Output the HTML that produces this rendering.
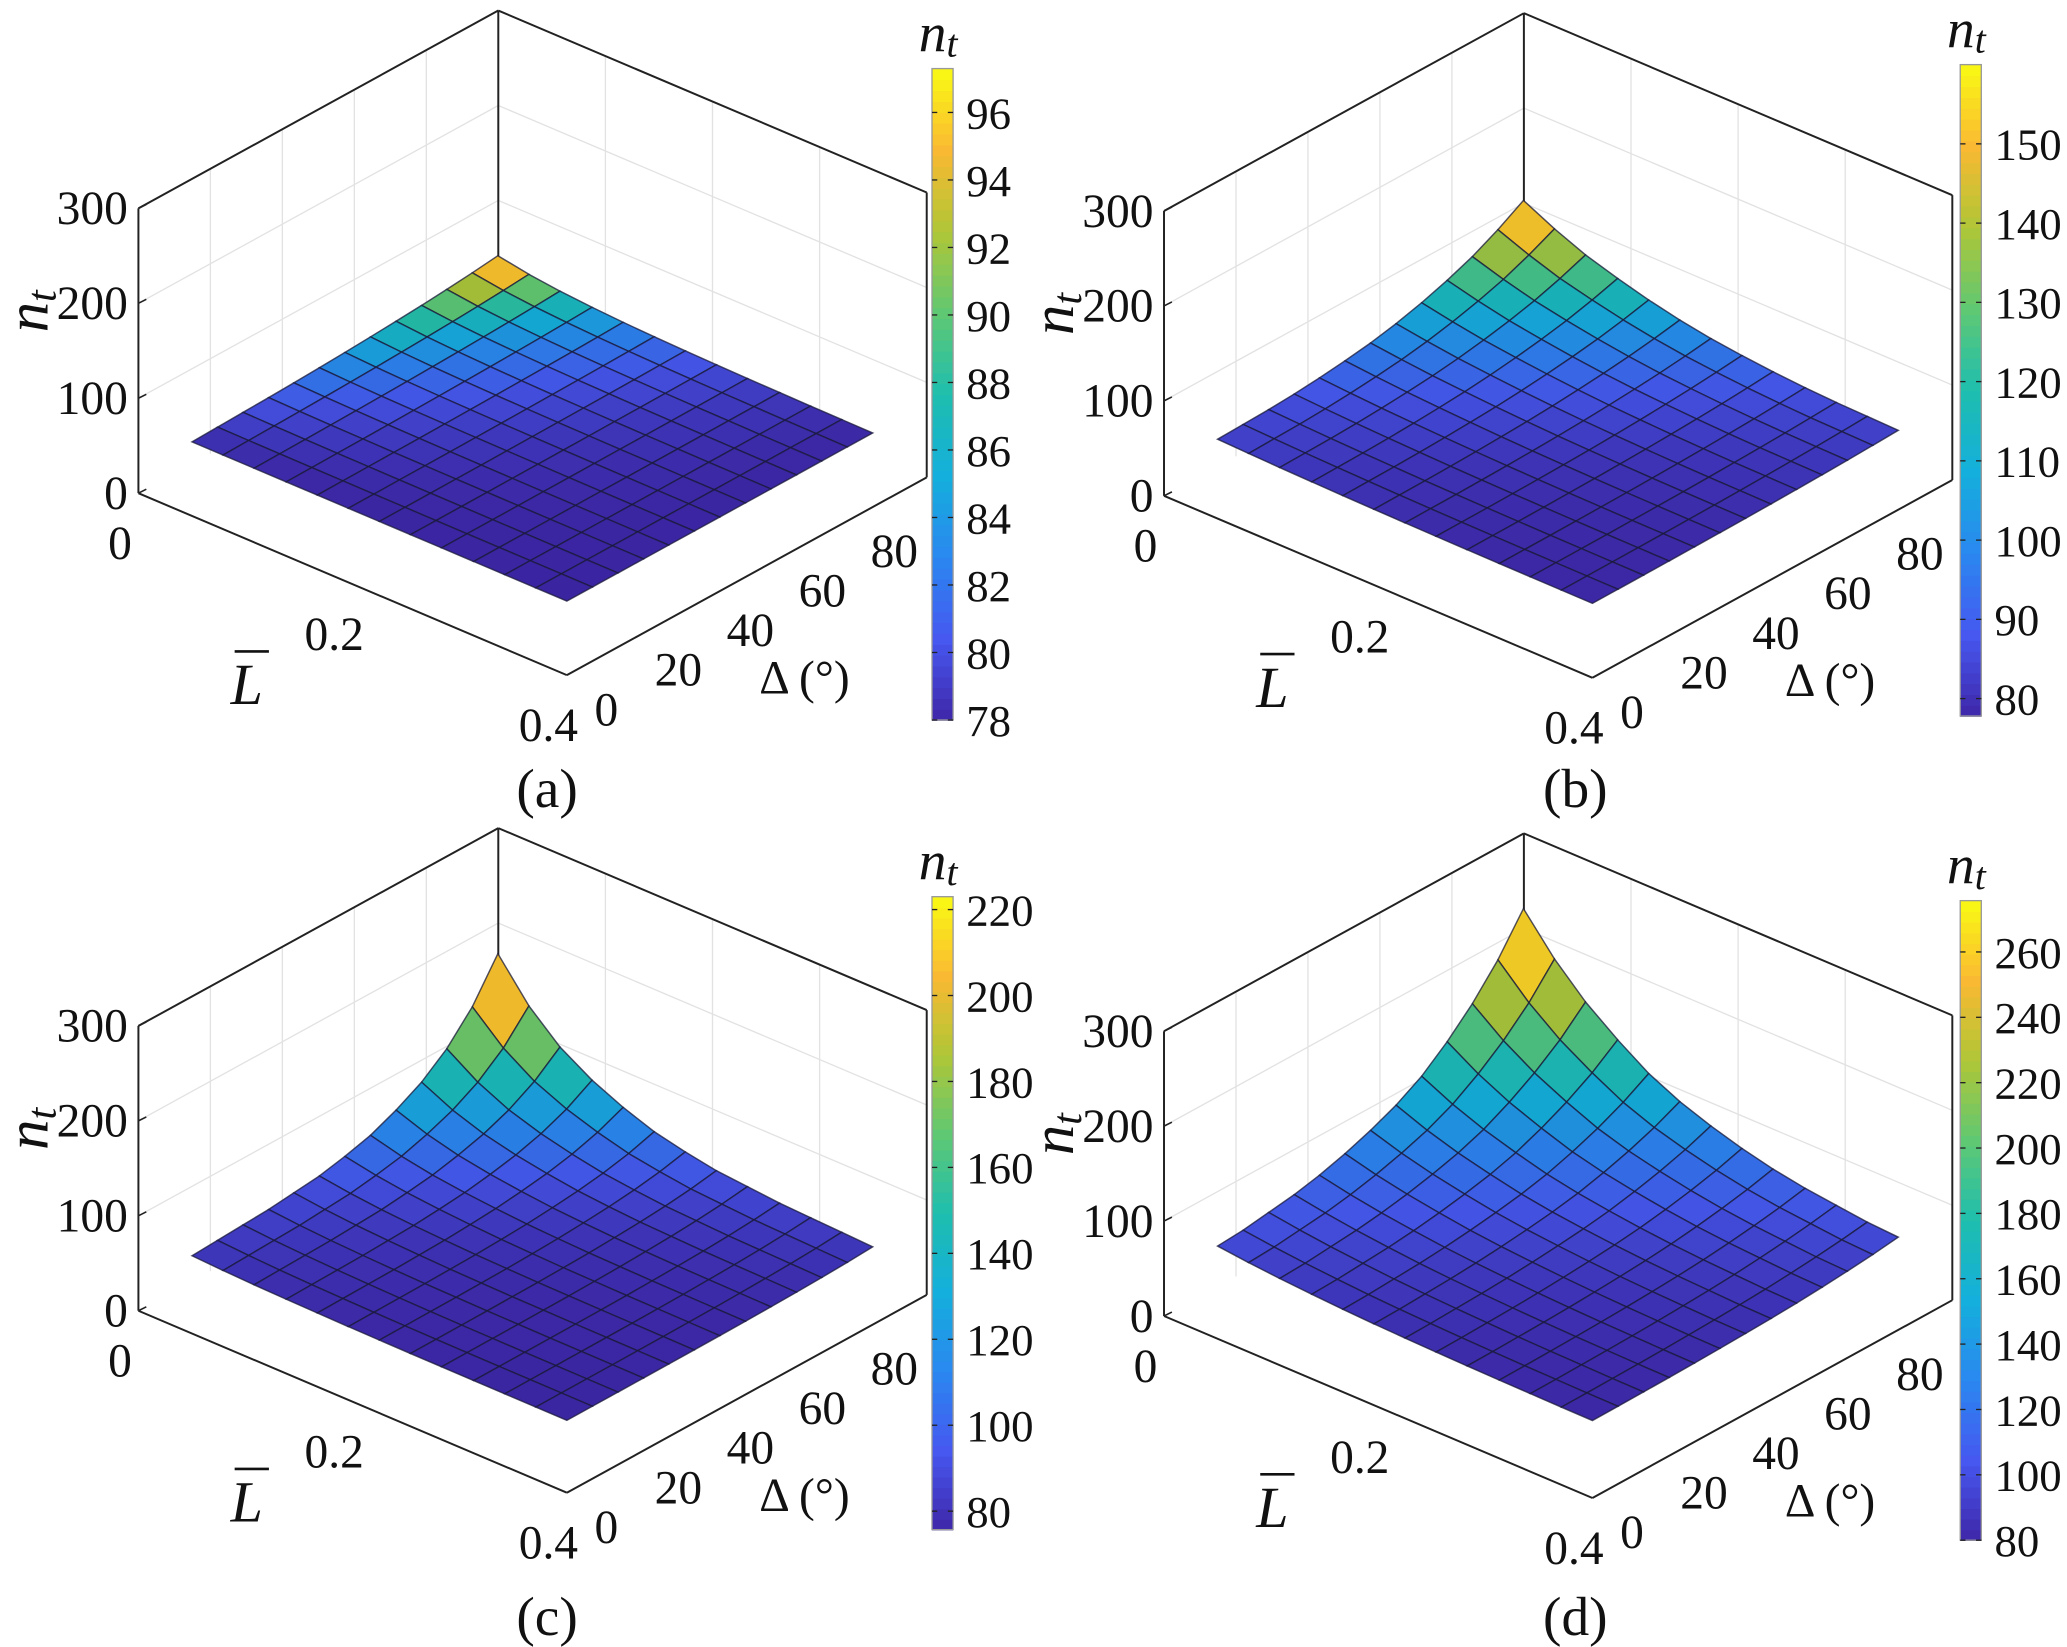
<!DOCTYPE html>
<html><head><meta charset="utf-8">
<style>
html,body{margin:0;padding:0;background:#fff;}
svg{display:block;}
text{font-family:"Liberation Serif","DejaVu Serif",serif;fill:#111;}
</style></head>
<body>
<svg id="fig" width="2067" height="1647" viewBox="0 0 1568 1249" preserveAspectRatio="none" xmlns="http://www.w3.org/2000/svg" font-family="Liberation Serif, serif"></svg>
<script>
// ---- data ----
const Lgrid = [0.05,0.079,0.108,0.138,0.167,0.196,0.225,0.254,0.283,0.313,0.342,0.371,0.4];
const Dgrid = [0,7.1,14.2,21.3,28.3,35.4,42.5,49.6,56.7,63.8,70.8,77.9,85];
const zTicks = [0,100,200,300];
const LTicks = [0,0.2,0.4];
const DTicks = [0,20,40,60,80];
const zMinA = 78, zPeakA = 97;
const zMinB = 78, zPeakB = 158;
const zMinC = 76, zPeakC = 223;
const zMinD = 80, zPeakD = 276;
const fA = [1,0.7,0.5,0.36,0.26,0.19,0.14,0.1,0.07,0.05,0.03,0.015,0];
const gA = [0,0.04,0.08,0.12,0.17,0.23,0.3,0.38,0.47,0.57,0.69,0.83,1];
const fB = [1,0.8,0.63,0.5,0.39,0.3,0.23,0.18,0.14,0.11,0.09,0.08,0.07];
const gB = [0.07,0.08,0.09,0.11,0.14,0.18,0.23,0.3,0.39,0.5,0.63,0.8,1];
const fC = [1,0.72,0.52,0.38,0.28,0.2,0.15,0.11,0.09,0.07,0.06,0.05,0.04];
const gC = [0.04,0.05,0.06,0.07,0.09,0.11,0.15,0.2,0.28,0.38,0.52,0.72,1];
const fD = [1,0.8,0.64,0.51,0.4,0.32,0.26,0.21,0.17,0.14,0.12,0.1,0.09];
const gD = [0.09,0.1,0.12,0.14,0.17,0.21,0.26,0.32,0.4,0.51,0.64,0.8,1];
const cbTicksA = [78,80,82,84,86,88,90,92,94,96];
const cbTicksB = [80,90,100,110,120,130,140,150];
const cbTicksC = [80,100,120,140,160,180,200,220];
const cbTicksD = [80,100,120,140,160,180,200,220,240,260];
const cbRangeA = [78,97.3], cbRangeB = [77.8,160], cbRangeC = [75.7,223], cbRangeD = [80,275.7];

const panels = [
 {id:"a",ox:0,oy:0,zmin:zMinA,zpk:zPeakA,f:fA,g:gA,cbt:cbTicksA,cbr:cbRangeA,cb:{x:707,y0:52,y1:546},cap:[415,612]},
 {id:"b",ox:778,oy:2,zmin:zMinB,zpk:zPeakB,f:fB,g:gB,cbt:cbTicksB,cbr:cbRangeB,cb:{x:1487,y0:49,y1:543},cap:[1195,612]},
 {id:"c",ox:0,oy:620,zmin:zMinC,zpk:zPeakC,f:fC,g:gC,cbt:cbTicksC,cbr:cbRangeC,cb:{x:707,y0:680,y1:1160},cap:[415,1240]},
 {id:"d",ox:778,oy:624,zmin:zMinD,zpk:zPeakD,f:fD,g:gD,cbt:cbTicksD,cbr:cbRangeD,cb:{x:1487,y0:683,y1:1168},cap:[1195,1240]}
];

const NS="http://www.w3.org/2000/svg";
const svg=document.getElementById("fig");
function mk(tag,attrs,parent){const e=document.createElementNS(NS,tag);for(const k in attrs)e.setAttribute(k,attrs[k]);if(tag==="text")e.setAttribute("font-family","Liberation Serif, serif");(parent||svg).appendChild(e);return e;}
const stops=[[0,[62,38,168]],[0.125,[70,88,240]],[0.25,[42,135,240]],[0.375,[20,175,220]],[0.5,[30,190,175]],[0.625,[95,200,115]],[0.75,[175,198,55]],[0.875,[250,185,50]],[1,[249,250,20]]];
function cmap(t){t=Math.max(0,Math.min(1,t));for(let i=1;i<stops.length;i++){if(t<=stops[i][0]){const a=stops[i-1],b=stops[i];const u=(t-a[0])/(b[0]-a[0]);return a[1].map((v,k)=>Math.round(v+(b[1][k]-v)*u));}}return stops[stops.length-1][1];}
function rgb(c,s){return "rgb("+c.map(v=>Math.round(v*s)).join(",")+")";}

panels.forEach(p=>{
  const g=mk("g",{});
  
  
  const P=(L,D,z)=>[p.ox+105+812.5*L+2.73*D, p.oy+374+345*L-1.5*D-0.72*z];
  const line=(a,b,st,w,name)=>{const l=mk("line",{x1:a[0],y1:a[1],x2:b[0],y2:b[1],stroke:st,"stroke-width":w},g);return l;};
  zTicks.slice(1,3).forEach(z=>{line(P(0,0,z),P(0,100,z),"#e2e2e2",1,"grid-z");line(P(0,100,z),P(0.4,100,z),"#e2e2e2",1,"grid-z");});
  [0.1,0.2,0.3].forEach(L=>line(P(L,100,0),P(L,100,300),"#e2e2e2",1,"grid-l"));
  DTicks.slice(1).forEach(D=>line(P(0,D,0),P(0,D,300),"#e2e2e2",1,"grid-d"));
  line(P(0,100,0),P(0,100,300),"#222",1.5,"box-edge");
  line(P(0,0,300),P(0,100,300),"#222",1.5,"box-edge");
  line(P(0,100,300),P(0.4,100,300),"#222",1.5,"box-edge");
  line(P(0,0,0),P(0,0,300),"#222",1.5,"box-edge");
  line(P(0.4,100,0),P(0.4,100,300),"#222",1.5,"box-edge");
  line(P(0,0,0),P(0.4,0,0),"#222",1.5,"l-axis");
  line(P(0.4,0,0),P(0.4,100,0),"#222",1.5,"delta-axis");
  const n=Lgrid.length, m=Dgrid.length;
  const Z=(i,j)=>p.zmin+(p.zpk-p.zmin)*p.f[i]*p.g[j];
  for(let i=0;i<n-1;i++){for(let j=m-2;j>=0;j--){
    const c=[[i,j],[i+1,j],[i+1,j+1],[i,j+1]];
    const pts=c.map(([a,b])=>P(Lgrid[a],Dgrid[b],Z(a,b)));
    const zv=Math.max(...c.map(([a,b])=>Z(a,b)))*0.6+c.reduce((s,[a,b])=>s+Z(a,b),0)/4*0.4;
    const col=cmap((zv-p.cbr[0])/(p.cbr[1]-p.cbr[0]));
    const poly=mk("polygon",{points:pts.map(q=>q.join(",")).join(" "),fill:rgb(col,0.95),stroke:"#1a1a3a","stroke-width":1.1,"stroke-opacity":0.75},g);
    
    
  }}
  zTicks.forEach(z=>{const q=P(0,0,z);const t=mk("text",{x:q[0]-8,y:q[1]+12,"font-size":36,"text-anchor":"end"},g);t.textContent=z;
    line([q[0],q[1]],[q[0]+6,q[1]-3],"#222",1.2,"z-tick");});
  LTicks.forEach(L=>{const q=P(L,0,0);const t=mk("text",{x:q[0]-14,y:q[1]+50,"font-size":36,"text-anchor":"middle"},g);t.textContent=L;});
  DTicks.forEach(D=>{const q=P(0.4,D,0);const t=mk("text",{x:q[0]+30,y:q[1]+38,"font-size":36,"text-anchor":"middle"},g);t.textContent=D;});
  let t=mk("text",{x:0,y:0,"font-size":46,"font-style":"italic",transform:`translate(${p.ox+36},${p.oy+252}) rotate(-90)`},g);t.innerHTML='n<tspan font-size="32" dy="6">t</tspan>';
  t=mk("text",{x:p.ox+175,y:p.oy+534,"font-size":44,"font-style":"italic"},g);t.textContent="L";
  line([p.ox+178,p.oy+494],[p.ox+204,p.oy+494],"#111",2,"l-overbar");
  t=mk("text",{x:p.ox+576,y:p.oy+526,"font-size":36},g);t.textContent="Δ (°)";
  const cb=p.cb, H=cb.y1-cb.y0, N=60;
  for(let k=0;k<N;k++){const r=mk("rect",{x:cb.x,y:cb.y1-(k+1)*H/N,width:16,height:H/N+0.6,fill:rgb(cmap((k+0.5)/N),1)},g);}
  const fr=mk("rect",{x:cb.x,y:cb.y0,width:16,height:H,fill:"none",stroke:"#999","stroke-width":1},g);
  p.cbt.forEach(v=>{const y=cb.y1-(v-p.cbr[0])/(p.cbr[1]-p.cbr[0])*H;line([cb.x,y],[cb.x+4,y],"#222",1,"colorbar-tick");line([cb.x+12,y],[cb.x+16,y],"#222",1,"colorbar-tick");
    const tt=mk("text",{x:cb.x+26,y:y+12,"font-size":34},g);tt.textContent=v;});
  t=mk("text",{x:cb.x-10,y:cb.y0-13,"font-size":42,"font-style":"italic"},g);t.innerHTML='n<tspan font-size="30" dy="4">t</tspan>';
  t=mk("text",{x:p.cap[0],y:p.cap[1],"font-size":42,"text-anchor":"middle"},g);t.textContent="("+p.id+")";
});
</script>
</body></html>
